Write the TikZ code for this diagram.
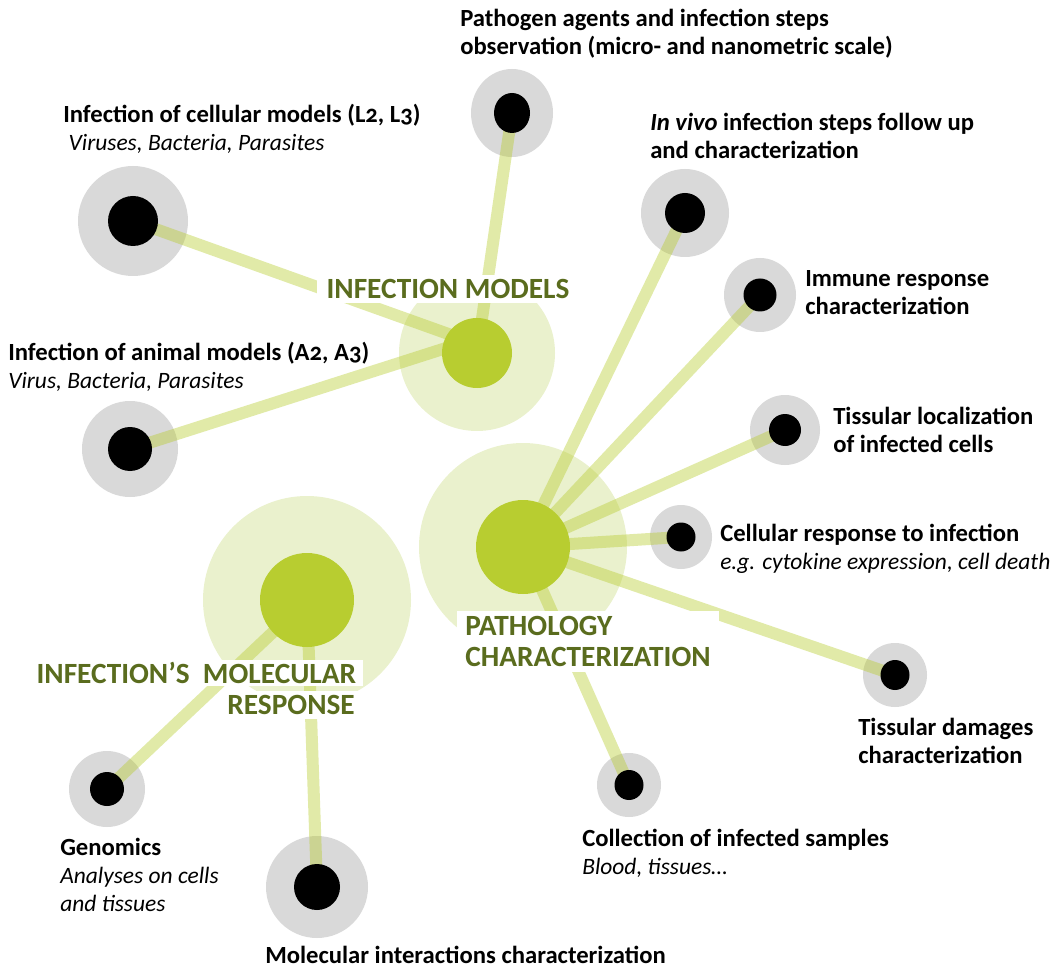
\documentclass[tikz,border=0pt]{standalone}
\usepackage{fontspec}
\setmainfont{Carlito}[Numbers=OldStyle]
\usetikzlibrary{shapes.geometric}
\definecolor{hubgreen}{RGB}{184,205,48}
\definecolor{palegreen}{RGB}{234,241,205}
\definecolor{halogray}{RGB}{217,217,217}
\definecolor{labelgreen}{RGB}{90,108,30}
\pgfdeclarelayer{halos}
\pgfdeclarelayer{links}
\pgfsetlayers{halos,links,main}
\newcommand{\itl}{\normalfont\itshape\fontsize{17.6pt}{21pt}\selectfont}
\begin{document}
\begin{tikzpicture}[x=0.75pt,y=-0.75pt,
  satdot/.style 2 args={ellipse, fill=black, inner sep=0pt, minimum width=#1*1.5pt, minimum height=#2*1.5pt},
  sathalo/.style 2 args={ellipse, fill=halogray, inner sep=0pt, minimum width=#1*1.5pt, minimum height=#2*1.5pt},
  hubcore/.style={circle, fill=hubgreen, inner sep=0pt, minimum size=#1*1.5pt},
  hubring/.style={circle, fill=palegreen, inner sep=0pt, minimum size=#1*1.5pt},
  link/.style={draw=hubgreen, draw opacity=0.42, line width=9pt},
  txt/.style={anchor=west, align=left, inner sep=0pt, font=\fontsize{18.5pt}{21pt}\selectfont\bfseries},
  hublabel/.style={fill=white, text=labelgreen, font=\fontsize{22pt}{23pt}\selectfont\bfseries}]
\useasboundingbox (0,0) rectangle (1055,969);

% hubs
\node[hubcore=35] (im) at (477,353) {};
\node[hubcore=47] (pc) at (523,547) {};
\node[hubcore=47] (mr) at (307,600) {};
\coordinate (imin) at (468,341);

% satellites
\node[satdot={25}{25}] (cell) at (133,221) {};
\node[satdot={22}{22}] (animal) at (130,449) {};
\node[satdot={18}{20}] (patho) at (512,113) {};
\node[satdot={20}{20}] (invivo) at (685,213) {};
\node[satdot={16.5}{16.5}] (immune) at (760,295) {};
\node[satdot={16}{16}] (tissloc) at (785,430) {};
\node[satdot={14.5}{14.5}] (cellresp) at (681,537) {};
\node[satdot={14.5}{15}] (tissdam) at (895,675) {};
\node[satdot={14.5}{15}] (collect) at (629,785) {};
\node[satdot={17}{17}] (genom) at (107,789) {};
\node[satdot={23}{23}] (molint) at (317,887) {};

\begin{pgfonlayer}{halos}
\node[hubring=78] (imH) at (im) {};
\node[hubring=104] (pcH) at (pc) {};
\node[hubring=104] (mrH) at (mr) {};
\node[sathalo={55}{55}] (cellH) at (cell) {};
\node[sathalo={48}{48}] (animalH) at (animal) {};
\node[sathalo={41}{44}] (pathoH) at (patho) {};
\node[sathalo={44}{44}] (invivoH) at (invivo) {};
\node[sathalo={36}{37}] (immuneH) at (immune) {};
\node[sathalo={35}{35}] (tisslocH) at (tissloc) {};
\node[sathalo={31}{32}] (cellrespH) at (cellresp) {};
\node[sathalo={32}{32}] (tissdamH) at (tissdam) {};
\node[sathalo={32}{32}] (collectH) at (collect) {};
\node[sathalo={38}{38}] (genomH) at (genom) {};
\node[sathalo={51}{51}] (molintH) at (molint) {};
\end{pgfonlayer}

\begin{pgfonlayer}{links}
\draw[link] (cell.center) -- (imin);
\draw[link] (animal.center) -- (imin);
\draw[link] (patho.center) -- (im.center);
\draw[link] (invivo.center) -- (pc.center);
\draw[link] (immune.center) -- (pc.center);
\draw[link] (tissloc.center) -- (pc.center);
\draw[link] (cellresp.center) -- (pc.center);
\draw[link] (tissdam.center) -- (pc.center);
\draw[link] (collect.center) -- (pc.center);
\draw[link] (genom.center) -- (mr.center);
\draw[link] (molint.center) -- (mr.center);
\end{pgfonlayer}

% hub labels
\node[hublabel, inner xsep=7pt, inner ysep=3pt] (imL) at (448,289) {INFECTION MODELS};
\node[hublabel, anchor=north west, align=left, inner xsep=6pt, inner ysep=4pt] (pcL) at (457,611) {PATHOLOGY\\CHARACTERIZATION};
\node[hublabel, anchor=east, inner xsep=5pt, inner ysep=2pt] (mrL1) at (363,673) {INFECTION’S\ \ MOLECULAR};
\node[hublabel, anchor=east, inner xsep=3pt, inner ysep=3pt] (mrL2) at (359,705) {RESPONSE};

% satellite labels
\node[txt] (cellT) at (63,129) {Infection of cellular models (L2, L3)\\\hspace*{4pt}\itl Viruses, Bacteria, Parasites};
\node[txt] (animalT) at (8,367) {Infection of animal models (A2, A3)\\\itl Virus, Bacteria, Parasites};
\node[txt] (pathoT) at (460,34) {Pathogen agents and infection steps\\observation (micro- and nanometric scale)};
\node[txt] (invivoT) at (650,136) {\textit{In vivo} infection steps follow up\\and characterization};
\node[txt] (immuneT) at (805,293) {Immune response\\characterization};
\node[txt] (tisslocT) at (833,430) {Tissular localization\\of infected cells};
\node[txt] (cellrespT) at (720,549) {Cellular response to infection\\\itl e.g. cytokine expression, cell death};
\node[txt] (tissdamT) at (858,741) {Tissular damages\\characterization};
\node[txt] (collectT) at (582,853) {Collection of infected samples\\\itl Blood, tissues…};
\node[txt] (genomT) at (60,875) {Genomics\\\itl Analyses on cells\\\itl and tissues};
\node[txt] (molintT) at (265,955) {Molecular interactions characterization};
\end{tikzpicture}
\end{document}
